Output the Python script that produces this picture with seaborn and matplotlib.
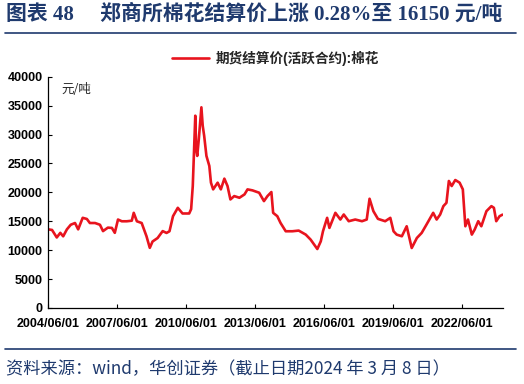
import pandas as pd
import matplotlib.pyplot as plt
import matplotlib.dates as mdates
import seaborn as sns

# 期货结算价(活跃合约):棉花, 元/吨
dates = [
    '2004-06-01', '2004-08-01', '2004-10-15', '2004-12-10', '2005-01-25', '2005-03-25',
    '2005-05-25', '2005-08-01', '2005-09-20', '2005-12-01', '2006-02-05', '2006-03-25',
    '2006-06-15', '2006-09-01', '2006-10-20', '2007-01-05', '2007-03-10', '2007-04-25',
    '2007-06-15', '2007-08-15', '2007-11-01', '2008-01-20', '2008-02-20', '2008-04-10',
    '2008-06-25', '2008-09-10', '2008-11-01', '2008-12-15', '2009-03-05', '2009-05-25',
    '2009-07-25', '2009-09-10', '2009-11-05', '2010-01-20', '2010-04-05', '2010-07-20',
    '2010-08-20', '2010-09-15', '2010-10-25', '2010-11-08', '2010-11-25', '2010-12-20',
    '2011-01-30', '2011-02-20', '2011-03-15', '2011-04-20', '2011-06-05', '2011-07-01',
    '2011-08-05', '2011-10-15', '2011-12-05', '2012-01-30', '2012-03-20', '2012-05-05',
    '2012-07-05', '2012-09-25', '2012-12-15', '2013-02-01', '2013-04-20', '2013-08-05',
    '2013-10-20', '2013-12-15', '2014-02-15', '2014-03-15', '2014-05-20', '2014-07-10',
    '2014-10-01', '2015-01-15', '2015-04-25', '2015-08-15', '2015-11-01', '2016-02-15',
    '2016-04-10', '2016-05-15', '2016-07-20', '2016-08-25', '2016-11-28', '2017-02-15',
    '2017-04-10', '2017-06-28', '2017-10-10', '2018-01-25', '2018-04-10', '2018-05-25',
    '2018-07-25', '2018-10-05', '2019-01-28', '2019-04-20', '2019-06-10', '2019-07-30',
    '2019-10-20', '2020-01-05', '2020-03-25', '2020-06-15', '2020-08-30', '2020-11-15',
    '2021-03-01', '2021-04-25', '2021-06-20', '2021-08-10', '2021-09-28', '2021-11-05',
    '2021-12-20', '2022-02-15', '2022-04-25', '2022-06-15', '2022-07-25', '2022-09-05',
    '2022-11-05', '2022-12-20', '2023-02-15', '2023-04-05', '2023-06-25', '2023-09-12',
    '2023-10-22', '2023-11-28', '2024-01-20', '2024-03-08',
]
prices = [
    13600, 13500, 12200, 13000, 12400, 13600,
    14400, 14700, 13600, 15600, 15400, 14700,
    14700, 14400, 13300, 13900, 13850, 13000,
    15300, 15000, 15000, 15100, 16460, 15000,
    14700, 12400, 10400, 11500, 12100, 13300,
    12985, 13270, 15880, 17330, 16350, 16350,
    17100, 21100, 33270, 27480, 26310, 29215,
    34720, 31530, 29800, 26310, 24575, 21680,
    20520, 21680, 20520, 22380, 21100, 18780,
    19360, 19070, 19650, 20520, 20350, 19940,
    18490, 19360, 20060, 16460, 15885, 14724,
    13274, 13274, 13390, 12695, 11825, 10200,
    11535, 13274, 15593, 13854, 16463, 15303,
    16173, 15013, 15303, 15013, 15303, 18897,
    16750, 15419, 15013, 15593, 13274, 12695,
    12405, 14140, 10376, 12115, 12985, 14434,
    16463, 15303, 16173, 17620, 18200, 21970,
    21100, 22140, 21680, 20520, 14140, 15303,
    12695, 13564, 15013, 14140, 16750, 17620,
    17330, 15013, 15885, 16150,
]
tick_dates = ['2004-06-01', '2007-06-01', '2010-06-01', '2013-06-01',
              '2016-06-01', '2019-06-01', '2022-06-01']
series_name = '期货结算价(活跃合约):棉花'

df = pd.DataFrame({'date': pd.to_datetime(dates), 'price': prices})

sns.set_style('ticks')
plt.rcParams['font.family'] = ['Liberation Sans', 'Noto Sans CJK SC', 'DejaVu Sans']

navy = '#1f3a6e'
red = '#e8141e'

fig = plt.figure(figsize=(5.24, 3.84), dpi=100)
ax = fig.add_axes([0.092, 0.198, 0.868, 0.602])

sns.lineplot(data=df, x='date', y='price', color=red, linewidth=1.9, ax=ax, label=series_name)

ax.set_ylim(0, 40000)
ax.set_yticks(range(0, 40001, 5000))
ax.set_xlim(pd.Timestamp('2004-06-01'), pd.Timestamp('2024-03-15'))
ax.set_xticks(pd.to_datetime(tick_dates))
ax.xaxis.set_major_formatter(mdates.DateFormatter('%Y/%m/%d'))
ax.set_xlabel('')
ax.set_ylabel('')
ax.tick_params(direction='in', length=3, width=0.8, colors='black', labelsize=9)
ax.tick_params(axis='x', pad=7)
ax.tick_params(axis='y', pad=4)
for lab in ax.get_xticklabels() + ax.get_yticklabels():
    lab.set_fontweight('bold')
for s in ['top', 'right']:
    ax.spines[s].set_visible(False)
for s in ['left', 'bottom']:
    ax.spines[s].set_linewidth(0.9)
    ax.spines[s].set_color('black')

ax.text(0.03, 0.975, '元/吨', transform=ax.transAxes, fontsize=9,
        family=['Noto Sans CJK SC', 'DejaVu Sans'], va='top', ha='left')

leg = ax.legend(loc='center', bbox_to_anchor=(0.5, 1.08), frameon=False,
                handlelength=2.7, handletextpad=0.5,
                prop={'family': ['Liberation Sans', 'Noto Sans CJK SC'], 'weight': 'bold', 'size': 9.8})

# title and source lines
fig.text(0.012, 0.963, '图表 48     郑商所棉花结算价上涨 0.28%至 16150 元/吨', color=navy,
         fontsize=15, fontweight='bold', va='center', ha='left',
         family=['Liberation Serif', 'Noto Sans CJK SC'])
fig.add_artist(plt.Line2D([0.01, 0.985], [0.914, 0.914], color=navy, linewidth=1.2))
fig.add_artist(plt.Line2D([0.01, 0.985], [0.091, 0.091], color=navy, linewidth=1.2))
fig.text(0.012, 0.039, '资料来源：wind，华创证券（截止日期2024 年 3 月 8 日）', color=navy,
         fontsize=12.4, style='italic', va='center', ha='left',
         family=['Noto Sans CJK SC', 'DejaVu Sans'])

fig.savefig('out.png', dpi=100)
